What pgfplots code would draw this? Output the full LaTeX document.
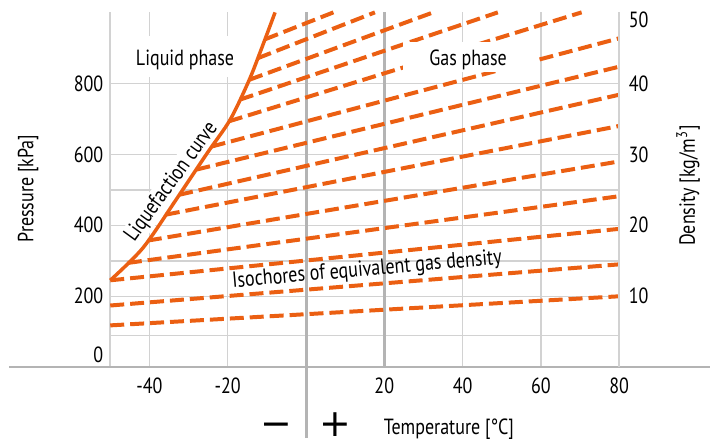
\documentclass[border=0pt]{standalone}
\usepackage{pgfplots}
\pgfplotsset{compat=1.18}
\usepackage{fontspec}
\setmainfont{PT Sans}[FakeStretch=0.82]
\newfontfamily\symfont{DejaVu Sans}
\definecolor{org}{HTML}{EB5F12}
\definecolor{grd}{HTML}{D2D2D2}
\definecolor{thk}{HTML}{B4B4B4}
\begin{document}
\begin{tikzpicture}[font=\fontsize{11}{13}\selectfont]
\begin{axis}[
  name=ax,
  scale only axis, width=255pt, height=177.8pt,
  xmin=-50, xmax=80, ymin=0, ymax=1000,
  enlargelimits=false, clip=false,
  axis line style={draw=none},
  major tick length=0pt,
  xtick={-40,-20,20,40,60,80}, xticklabels={-40,-20,20,40,60,80},
  ytick={34,200,400,600,800}, yticklabels={0,200,400,600,800},
  xmajorgrids=true,
  grid style={grd, line width=0.75pt},
  extra y ticks={90,200,300,400,500,600,800},
  extra y tick labels={},
  extra y tick style={ymajorgrids=true, major tick length=0pt},
  tick label style={font=\fontsize{11}{13}\selectfont},
  xticklabel style={yshift=-1.7pt},
]
\draw[grd, line width=0.75pt] (axis cs:-50,0) -- (axis cs:-50,1000);
\draw[thk, line width=1pt] (axis cs:-75.86,0) -- (axis cs:103.19,0);
\draw[thk, line width=1.5pt] (axis cs:0,-199.7) -- (axis cs:0,1000);
\draw[thk, line width=1.5pt] (axis cs:20,0) -- (axis cs:20,1000);

\fill[white] (axis cs:-46.2,818) rectangle (axis cs:-16.9,934);
\node[anchor=base] at (axis cs:-30.9,850) {Liquid phase};
\node[fill=white, inner sep=1pt, rotate=54] at (axis cs:-34.3,522) {Liquefaction curve};

\addplot[org, line width=1.75pt, smooth, no markers] coordinates {
(-50,245) (-41.6,337) (-33.2,472) (-25.2,604) (-19.4,697) (-14.6,807) (-11.5,894) (-7.9,1000)};

\pgfplotsset{iso/.style={org, line width=2pt, dash pattern=on 7pt off 3pt, no markers}}
\addplot[iso] coordinates {(-50,118) (80,200)};
\addplot[iso] coordinates {(-50,174) (80,290)};
\addplot[iso] coordinates {(-50,245) (80,390)};
\addplot[iso] coordinates {(-45.5,294) (80,482)};
\addplot[iso] coordinates {(-40.4,357) (80,580)};
\addplot[iso] coordinates {(-35.8,430) (80,680)};
\addplot[iso] coordinates {(-32.4,486) (80,768)};
\addplot[iso] coordinates {(-28.0,557) (80,847)};
\addplot[iso] coordinates {(-24.1,622) (80,927)};
\addplot[iso] coordinates {(-19.7,693) (70.4,1000)};
\addplot[iso] coordinates {(-16.9,754) (49.0,1000)};
\addplot[iso] coordinates {(-14.5,810) (32.5,1000)};
\addplot[iso] coordinates {(-12.3,871) (17.6,1000)};
\addplot[iso] coordinates {(-10.5,924) (7.0,1000)};

\fill[white] (axis cs:24.8,832) rectangle (axis cs:59.0,917);
\node[anchor=base] at (axis cs:41.4,850) {Gas phase};
\node[rotate=5] at (axis cs:15.6,273) {Isochores of equivalent gas density};

\node[anchor=base, inner sep=0pt] at (axis cs:36.5,-189) {Temperature [°C]};
\node[anchor=base, inner sep=0pt, font=\symfont\fontsize{19}{19}\selectfont] at (axis cs:-7.5,-195.5) {−};
\node[anchor=base, inner sep=0pt, font=\symfont\fontsize{19}{19}\selectfont] at (axis cs:7.5,-194) {+};
\node[rotate=90] at (axis cs:-71.0,503.4) {Pressure [kPa]};
\node[rotate=90] at (axis cs:97.6,511.8) {Density [kg/m\textsuperscript{3}]};

\coordinate (bl) at (axis cs:-78.16,-199.7);
\coordinate (tr) at (axis cs:103.19,1034.9);
\end{axis}
\begin{axis}[
  scale only axis, width=255pt, height=177.8pt,
  xmin=-50, xmax=80, ymin=0, ymax=50, enlargelimits=false,
  axis x line=none, axis y line*=right,
  axis line style={grd, line width=0.75pt},
  xtick=\empty,
  ytick={10,20,30,40,48.9}, yticklabels={10,20,30,40,50},
  major tick length=0pt,
  tick label style={font=\fontsize{11}{13}\selectfont},
  yticklabel style={xshift=1.3pt},
]
\end{axis}
\pgfresetboundingbox
\path[use as bounding box] (bl) rectangle (tr);
\end{tikzpicture}
\end{document}
